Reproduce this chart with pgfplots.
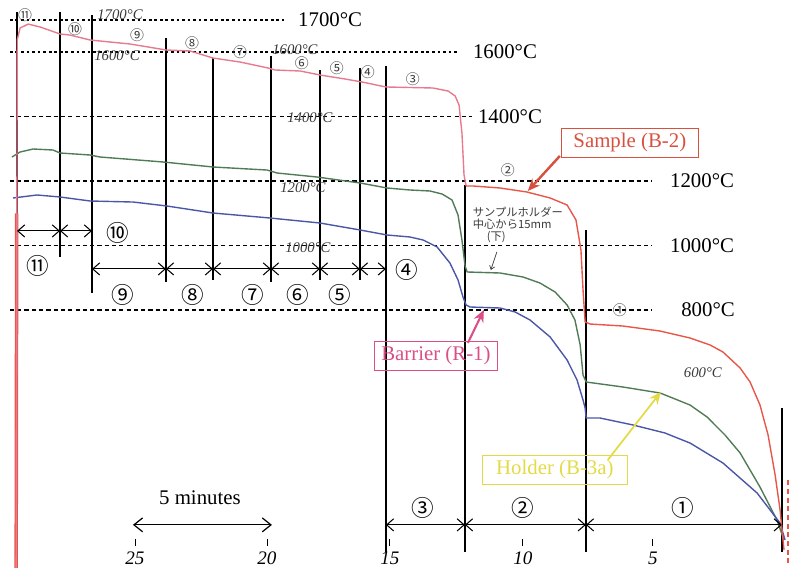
\documentclass[border=0pt]{standalone}
\usepackage{fontspec}
\setmainfont{Liberation Serif}
\newfontfamily\jp{Noto Sans CJK JP}
\usepackage{pgfplots}
\pgfplotsset{compat=1.18}
\usetikzlibrary{arrows.meta}
\definecolor{cred}{HTML}{E8564A}
\definecolor{cpink}{HTML}{E77A8E}
\definecolor{cgreen}{HTML}{4F7B55}
\definecolor{cblue}{HTML}{4A56A6}
\definecolor{cbar}{HTML}{DB4F86}
\definecolor{cyel}{HTML}{E3DA45}
\definecolor{csam}{HTML}{D8503E}
\definecolor{hand}{HTML}{3A3A3A}
\begin{document}
\begin{tikzpicture}
\begin{axis}[scale only axis, width=16cm, height=11.666cm,
  xmin=-0.19, xmax=30.08, x dir=reverse, ymin=-25.4, ymax=1761.7,
  axis lines=none, ticks=none, clip=false]
% temperature reference lines
\addplot[black, line width=0.9pt, dash pattern=on 1.6pt off 1.6pt] coordinates {(29.7,1700) (19.2,1700)};
\addplot[black, line width=0.9pt, dash pattern=on 1.6pt off 1.6pt] coordinates {(29.7,1600) (12.53,1600)};
\addplot[black, line width=0.9pt, dash pattern=on 2.4pt off 1.8pt] coordinates {(29.7,1400) (12.0,1400)};
\addplot[black, line width=0.9pt, dash pattern=on 2.4pt off 1.8pt] coordinates {(29.7,1200) (5.11,1200)};
\addplot[black, line width=0.9pt, dash pattern=on 2.4pt off 1.8pt] coordinates {(29.7,1000) (5.11,1000)};
\addplot[black, line width=0.9pt, dash pattern=on 2.4pt off 1.8pt] coordinates {(29.7,800) (5.11,800)};
% segment dividers
\addplot[black, line width=0.8pt] coordinates {(29.43,1724) (29.43,40)};
\addplot[black, line width=0.8pt] coordinates {(27.78,1724) (27.78,964)};
\addplot[black, line width=0.8pt] coordinates {(26.55,1715) (26.55,853)};
\addplot[black, line width=0.8pt] coordinates {(23.72,1644) (23.72,887)};
\addplot[black, line width=0.8pt] coordinates {(21.92,1582) (21.92,893)};
\addplot[black, line width=0.8pt] coordinates {(19.69,1588) (19.69,887)};
\addplot[black, line width=0.8pt] coordinates {(17.82,1545) (17.82,893)};
\addplot[black, line width=0.8pt] coordinates {(16.28,1551) (16.28,893)};
\addplot[black, line width=0.8pt] coordinates {(15.29,1557) (15.29,49)};
\addplot[black, line width=0.8pt] coordinates {(12.26,1187) (12.26,49)};
\addplot[black, line width=0.8pt] coordinates {(7.62,1048) (7.62,49)};
\addplot[black, line width=0.8pt] coordinates {(0.11,496) (0.11,49)};
% holder (green)
\addplot[cgreen, line width=0.8pt, line join=round] coordinates {
(29.62,1274.6) (29.31,1290.1) (28.81,1299.4) (28.05,1296.3) (27.78,1287) (26.63,1280.8)
(26.25,1274.6) (23.83,1259.1) (21.91,1243.5) (19.85,1234.2) (19.46,1224.9) (17.93,1212.5)
(16.28,1193.9) (15.25,1178.4) (14.37,1172.2) (13.60,1169.1) (13.14,1159.8) (12.76,1141.2)
(12.53,1094.6) (12.38,1017.1) (12.26,936.4) (12.18,917.8) (10.92,914.7) (10.04,902.3)
(9.39,883.6) (8.81,855.7) (8.35,815.4) (8.05,768.8) (7.85,691.3) (7.74,598.2) (7.62,576.5)
(6.21,561) (4.79,542.4) (3.64,505.1) (2.99,468) (2.30,412) (1.72,356.2) (0.96,250.7)
(0.31,148.3) (0.04,86.2)};
% barrier (blue)
\addplot[cblue, line width=0.8pt, line join=round] coordinates {
(29.58,1147.4) (28.66,1156.7) (27.78,1150.5) (26.63,1138.1) (24.98,1134.9) (23.68,1122.5)
(21.92,1100.8) (19.73,1085.3) (17.82,1069.8) (16.28,1048.1) (15.25,1032.6) (14.37,1026.4)
(13.87,1017.1) (13.33,995.3) (12.84,945.7) (12.53,893) (12.34,840.2) (12.22,815.4)
(12.07,809.2) (10.92,806.1) (10.34,793.7) (9.77,768.8) (9.00,716.1) (8.35,644.7)
(7.97,582.7) (7.74,520.6) (7.66,495.8) (7.62,464.8) (7.09,464.8) (5.82,443.1) (4.60,418.3)
(3.64,387.2) (2.38,325.2) (1.07,232.1) (0.19,138.9) (0.0,86.2)};
% sample (red)
\addplot[cred, line width=2pt] coordinates {(29.46,0) (29.44,1100)};
\addplot[cpink, line width=0.8pt, line join=round] coordinates {
(29.46,0) (29.42,1637.6) (29.31,1674.8) (29.00,1687) (28.54,1677.9) (27.78,1656.2)
(27.40,1653) (26.63,1637.6) (25.10,1625.2) (23.72,1606.6) (22.80,1603.5) (21.92,1581.7)
(20.88,1569.3) (19.81,1550.7) (19.54,1544.5) (18.58,1541.4) (17.82,1529) (16.86,1516.6)
(16.21,1507.3) (15.29,1491.8) (13.49,1488.7) (12.91,1479.3) (12.64,1463.8) (12.49,1435.9)
(12.38,1349) (12.30,1218.7) (12.22,1184.6)};
\addplot[cred, line width=0.8pt, line join=round] coordinates {
(12.22,1184.6) (11.95,1184.6) (10.92,1178.4) (9.89,1166) (9.00,1147.4) (8.35,1125.6)
(8.01,1079.1) (7.82,986) (7.74,861.9) (7.66,762.6) (7.47,756.4) (6.21,750.2) (4.79,734.7)
(3.64,713) (2.87,691.3) (2.38,669.6) (1.72,619.9) (1.34,576.5) (0.96,505.1) (0.65,412.0)
(0.38,288) (0.19,179.3) (0.04,55.2)};
\addplot[cred, line width=0.8pt, densely dashed] coordinates {(-0.11,272) (-0.11,9)};
% printed temperature labels
\node[font=\fontsize{12}{14}\selectfont] at (axis cs:17.43,1700) {1700°C};
\node[font=\fontsize{12}{14}\selectfont] at (axis cs:10.73,1600) {1600°C};
\node[font=\fontsize{12}{14}\selectfont] at (axis cs:10.54,1400) {1400°C};
\node[font=\fontsize{12}{14}\selectfont] at (axis cs:3.18,1200) {1200°C};
\node[font=\fontsize{12}{14}\selectfont] at (axis cs:3.18,1000) {1000°C};
\node[font=\fontsize{12}{14}\selectfont] at (axis cs:2.95,800) {800°C};
\end{axis}
% annotations in picture pixel units (790 x 576)
\begin{scope}[x=0.0202532cm, y=-0.0202532cm, shift={(0,11.666cm)}]
\tikzset{seg/.style={black, line width=0.6pt, {Straight Barb[length=4pt,width=7pt]}-{Straight Barb[length=4pt,width=7pt]}},
  circ/.style={font=\jp\fontsize{13}{14}\selectfont},
  hc/.style={font=\jp\fontsize{8}{9}\selectfont, text=hand},
  hw/.style={font=\itshape\fontsize{8.5}{9}\selectfont, text=hand}}
% segment arrows
\draw[seg] (17,231) -- (60,231);
\draw[seg] (60,231) -- (92,231);
\draw[seg] (92,269) -- (166,269);
\draw[seg] (166,269) -- (213,269);
\draw[seg] (213,269) -- (271,269);
\draw[seg] (271,269) -- (320,269);
\draw[seg] (320,269) -- (360,269);
\draw[seg] (360,269) -- (386,269);
\draw[seg] (386,525) -- (465,525);
\draw[seg] (465,525) -- (586,525);
\draw[seg] (586,525) -- (782,525);
\node[circ] at (38,266) {⑪};
\node[circ] at (118,233) {⑩};
\node[circ] at (123,295) {⑨};
\node[circ] at (193,295) {⑧};
\node[circ] at (253,295) {⑦};
\node[circ] at (298,295) {⑥};
\node[circ] at (340,295) {⑤};
\node[circ] at (407,270) {④};
\node[circ] at (423,508) {③};
\node[circ] at (523,508) {②};
\node[circ] at (683,508) {①};
% handwritten marks
\node[hc] at (25,15) {⑪};
\node[hc] at (75,29) {⑩};
\node[hc] at (137,35) {⑨};
\node[hc] at (192,43) {⑧};
\node[hc] at (240,52) {⑦};
\node[hc] at (302,63) {⑥};
\node[hc] at (337,68) {⑤};
\node[hc] at (368,72) {④};
\node[hc] at (413,79) {③};
\node[hc] at (508,170) {②};
\node[hc] at (620,310) {①};
\node[hw] at (120,15) {1700°C};
\node[hw] at (117,56) {1600°C};
\node[hw] at (295,50) {1600°C};
\node[hw] at (310,118) {1400°C};
\node[hw] at (303,188) {1200°C};
\node[hw] at (308,248) {1000°C};
\node[hw] at (703,373) {600°C};
\node[font=\jp\fontsize{6.5}{7}\selectfont, text=hand, align=left] at (518,225) {サンプルホルダー\\中心から15mm\\\hspace*{8pt}(下)};
\draw[hand, line width=0.4pt, -{Straight Barb[length=2pt,width=3pt]}] (497,252) -- (491,270);
% time scale
\node[font=\fontsize{12}{14}\selectfont] at (200,498) {5 minutes};
\draw[black, line width=0.7pt, {Straight Barb[length=5pt,width=8pt]}-{Straight Barb[length=5pt,width=8pt]}] (133,525) -- (272,525);
\foreach \xx/\lab in {135/25, 267/20, 390/15, 523/10, 653/5} {
  \draw[black, line width=0.5pt] (\xx,539) -- (\xx,546);
  \node[font=\itshape\fontsize{11}{12}\selectfont] at (\xx,558) {\lab};
}
% series labels
\node[draw=csam, line width=0.8pt, text=csam, font=\fontsize{12}{14}\selectfont, inner xsep=7pt, inner ysep=3pt] at (630,143) {Sample (B-2)};
\draw[csam, line width=1.4pt, -{Stealth[length=7pt,width=6pt]}] (560,156) -- (528,191);
\node[draw=cbar, line width=0.8pt, text=cbar, font=\fontsize{12}{14}\selectfont, inner xsep=4pt, inner ysep=3pt] at (436,356) {Barrier (R-1)};
\draw[cbar, line width=1.2pt, -{Stealth[length=7pt,width=6pt]}] (468,343) -- (484,310);
\node[draw=cyel, line width=0.8pt, text=cyel, font=\fontsize{12}{14}\selectfont, inner xsep=8pt, inner ysep=3pt] at (555,470) {Holder (B-3a)};
\draw[cyel, line width=1.0pt, -{Stealth[length=7pt,width=6pt]}] (608,460) -- (661,392);
\end{scope}
\pgfresetboundingbox
\useasboundingbox (0,0) rectangle (16cm,11.666cm);
\end{tikzpicture}
\end{document}
